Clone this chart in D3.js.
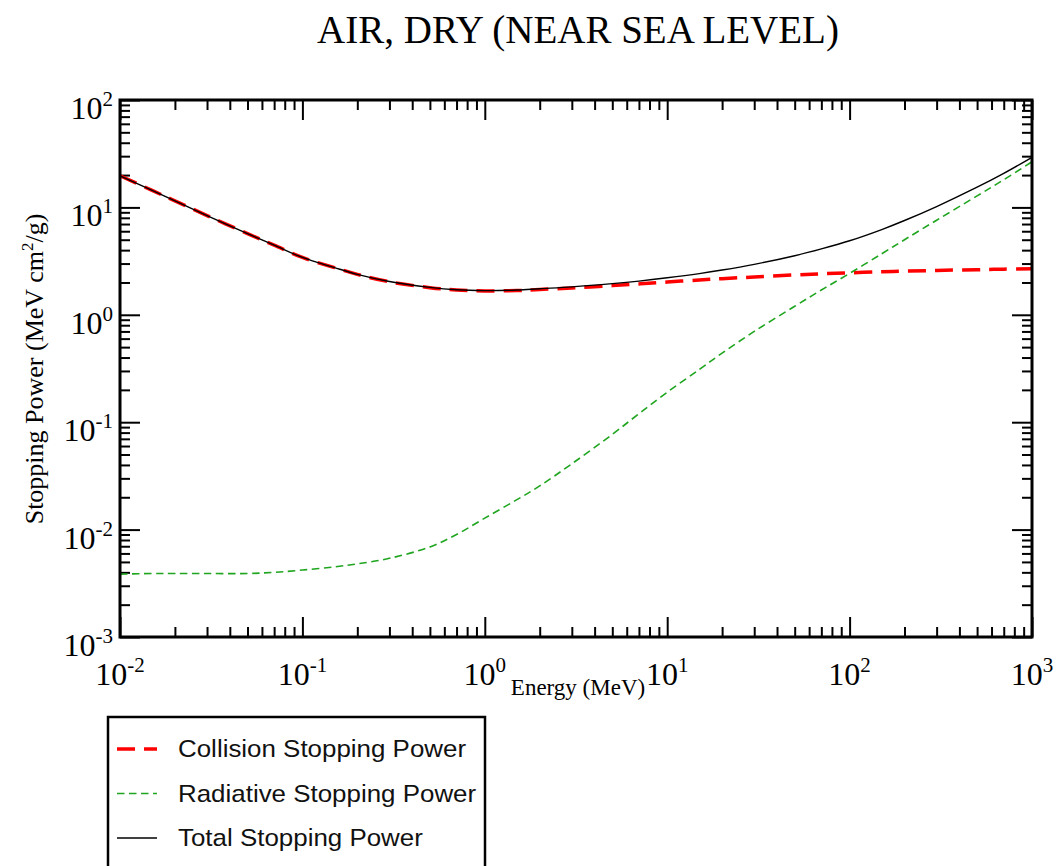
<!DOCTYPE html>
<html>
<head>
<meta charset="utf-8">
<script src="https://cdn.jsdelivr.net/npm/d3@7/dist/d3.min.js"></script>
<style>
  body { margin: 0; background: #fff; }
  svg { display: block; }
</style>
</head>
<body>
<div class="container"></div>
<script>
// Data, energies in MeV, stopping powers in MeV cm2/g
const energy = [0.01, 0.015, 0.02, 0.03, 0.05, 0.07, 0.1, 0.15, 0.2, 0.3, 0.5, 0.7,
  1, 1.5, 2, 3, 5, 7, 10, 15, 20, 30, 50, 70, 100, 150, 200, 300, 500, 700, 1000];
const collision = [19.7, 14.4, 11.5, 8.4, 5.7, 4.45, 3.42, 2.75, 2.38, 2.03, 1.79, 1.70,
  1.67, 1.68, 1.72, 1.78, 1.87, 1.94, 2.02, 2.11, 2.17, 2.25, 2.35, 2.41, 2.46, 2.52, 2.55, 2.59, 2.63, 2.66, 2.68];
const radiative = [0.00385, 0.0039, 0.0039, 0.0039, 0.0039, 0.0040, 0.0042, 0.0045, 0.0048, 0.0054, 0.0069, 0.0090,
  0.0128, 0.019, 0.0255, 0.041, 0.077, 0.12, 0.19, 0.31, 0.44, 0.70, 1.20, 1.70, 2.43, 3.70, 5.0, 7.6, 12.8, 18.1, 26.6];
const total = [19.70, 14.40, 11.50, 8.40, 5.70, 4.45, 3.42, 2.75, 2.38, 2.04, 1.80, 1.71,
  1.68, 1.70, 1.75, 1.82, 1.95, 2.06, 2.21, 2.42, 2.61, 2.95, 3.55, 4.11, 4.89, 6.22, 7.55, 10.19, 15.43, 20.76, 29.28];

const xMajor = [1e-2, 1e-1, 1e0, 1e1, 1e2, 1e3];
const xExp = ["-2", "-1", "0", "1", "2", "3"];
const yMajor = [1e-3, 1e-2, 1e-1, 1e0, 1e1, 1e2];
const yExp = ["-3", "-2", "-1", "0", "1", "2"];

const seriesNames = ["Collision Stopping Power", "Radiative Stopping Power", "Total Stopping Power"];

// Dimensions
const w = 1059;
const h = 866;
const pLeft = 120, pRight = 1032, pTop = 100, pBottom = 637;
const serif = "'Liberation Serif', 'Times New Roman', serif";
const sans = "'Liberation Sans', Arial, Helvetica, sans-serif";

const xScale = d3.scaleLog().domain([1e-2, 1e3]).range([pLeft, pRight]);
const yScale = d3.scaleLog().domain([1e-3, 1e2]).range([pBottom, pTop]);

// minor ticks 2..9 in each decade
const minorOf = majors => {
  let out = [];
  majors.slice(0, -1).forEach(m => { for (let k = 2; k <= 9; k++) out.push(m * k); });
  return out;
};
const xMinor = minorOf(xMajor);
const yMinor = minorOf(yMajor);

const svg = d3.select(".container")
  .append("svg")
  .attr("width", w)
  .attr("height", h)
  .style("font-family", serif);

// Title
svg.append("text")
  .attr("x", 578)
  .attr("y", 43)
  .attr("text-anchor", "middle")
  .style("font-size", "39px")
  .text("AIR, DRY (NEAR SEA LEVEL)");

// Axes: ticks on all four sides, pointing inwards
function addAxis(axisFn, scale, values, size, transform) {
  const g = svg.append("g")
    .attr("transform", transform)
    .call(axisFn(scale).tickValues(values).tickSize(-size).tickSizeOuter(0).tickFormat(""));
  g.select(".domain").remove();
  g.selectAll(".tick line").attr("stroke", "#000").attr("stroke-width", 2);
}
addAxis(d3.axisBottom, xScale, xMinor, 10, `translate(0,${pBottom})`);
addAxis(d3.axisBottom, xScale, xMajor, 20, `translate(0,${pBottom})`);
addAxis(d3.axisTop, xScale, xMinor, 10, `translate(0,${pTop})`);
addAxis(d3.axisTop, xScale, xMajor, 20, `translate(0,${pTop})`);
addAxis(d3.axisLeft, yScale, yMinor, 10, `translate(${pLeft},0)`);
addAxis(d3.axisLeft, yScale, yMajor, 20, `translate(${pLeft},0)`);
addAxis(d3.axisRight, yScale, yMinor, 10, `translate(${pRight},0)`);
addAxis(d3.axisRight, yScale, yMajor, 20, `translate(${pRight},0)`);

// Tick labels 10^n
const xLab = svg.append("g").selectAll("text")
  .data(xMajor)
  .enter()
  .append("text")
  .attr("x", d => xScale(d))
  .attr("y", pBottom + 48)
  .attr("text-anchor", "middle")
  .style("font-size", "32px");
xLab.append("tspan").text("10");
xLab.append("tspan").attr("dy", -13).style("font-size", "21px").text((d, i) => xExp[i]);

const yLab = svg.append("g").selectAll("text")
  .data(yMajor)
  .enter()
  .append("text")
  .attr("x", pLeft - 7)
  .attr("y", d => yScale(d) + 19)
  .attr("text-anchor", "end")
  .style("font-size", "32px");
yLab.append("tspan").text("10");
yLab.append("tspan").attr("dy", -13).style("font-size", "21px").text((d, i) => yExp[i]);

// Axis titles
svg.append("text")
  .attr("x", 578)
  .attr("y", 695)
  .attr("text-anchor", "middle")
  .style("font-size", "23px")
  .text("Energy (MeV)");

const yTitle = svg.append("text")
  .attr("transform", "translate(43,369) rotate(-90)")
  .attr("text-anchor", "middle")
  .style("font-size", "26px");
yTitle.append("tspan").text("Stopping Power (MeV cm");
yTitle.append("tspan").attr("dy", -10).style("font-size", "17px").text("2");
yTitle.append("tspan").attr("dy", 10).text("/g)");

// Curves
const line = d3.line()
  .x(d => xScale(d[0]))
  .y(d => yScale(d[1]))
  .curve(d3.curveCatmullRom.alpha(0.5));

const styles = [
  { color: "#ff0000", width: 3.5, dash: "18,9" },
  { color: "#1fa51f", width: 1.6, dash: "7.5,4.5" },
  { color: "#000000", width: 1.4, dash: null }
];
const series = [collision, radiative, total];

series.forEach((vals, i) => {
  svg.append("path")
    .datum(energy.map((e, j) => [e, vals[j]]))
    .attr("fill", "none")
    .attr("stroke", styles[i].color)
    .attr("stroke-width", styles[i].width)
    .attr("stroke-dasharray", styles[i].dash)
    .attr("d", line);
});

// Frame
svg.append("rect")
  .attr("x", pLeft)
  .attr("y", pTop)
  .attr("width", pRight - pLeft)
  .attr("height", pBottom - pTop)
  .attr("fill", "none")
  .attr("stroke", "#000")
  .attr("stroke-width", 3);

// Legend (box runs off the bottom of the picture)
const legend = svg.append("g").attr("id", "legend");
legend.append("rect")
  .attr("x", 108)
  .attr("y", 717)
  .attr("width", 377)
  .attr("height", 200)
  .attr("fill", "#fff")
  .attr("stroke", "#000")
  .attr("stroke-width", 2.5);

const item = legend.selectAll("g.item")
  .data(seriesNames)
  .enter()
  .append("g")
  .attr("class", "item")
  .attr("transform", (d, i) => `translate(0,${749 + i * 44.5})`);

item.append("line")
  .attr("x1", 117)
  .attr("x2", 157)
  .attr("stroke", (d, i) => styles[i].color)
  .attr("stroke-width", (d, i) => styles[i].width)
  .attr("stroke-dasharray", (d, i) => styles[i].dash);

item.append("text")
  .attr("transform", "translate(178,8) scale(1.08,1)")
  .style("font-family", sans)
  .style("font-size", "24px")
  .style("fill", "#111")
  .text(d => d);
</script>
</body>
</html>
